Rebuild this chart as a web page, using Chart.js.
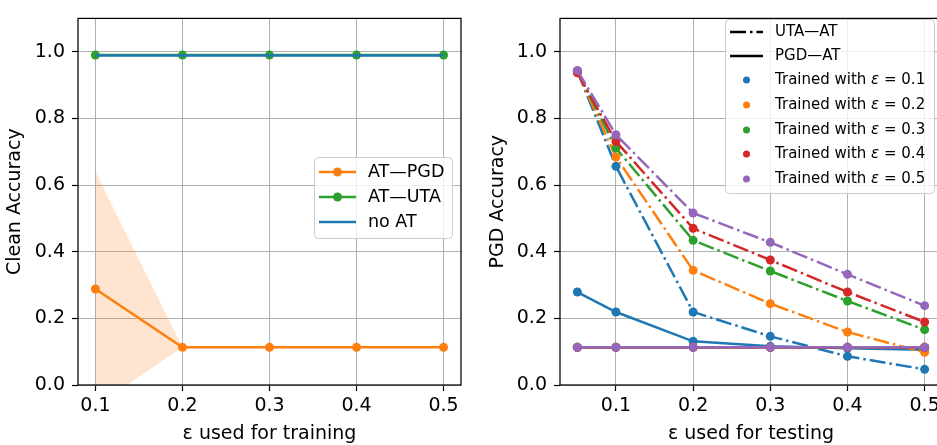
<!DOCTYPE html>
<html>
<head>
<meta charset="utf-8">
<script src="https://cdn.jsdelivr.net/npm/chart.js@4.4.0/dist/chart.umd.min.js"></script>
<style>
  html, body { margin: 0; padding: 0; background: #fff; overflow: hidden; width: 937px; height: 445px; }
  #leftChart { position: absolute; left: 0; top: 0; }
  #rightChart { position: absolute; left: 480px; top: 0; }
</style>
</head>
<body>
<canvas id="leftChart" width="470" height="445"></canvas>
<canvas id="rightChart" width="470" height="445"></canvas>
<script>
// data - left panel (clean accuracy vs training eps)
const trainEps = [0.1, 0.2, 0.3, 0.4, 0.5];
const cleanPgdMean = [0.288, 0.113, 0.113, 0.113, 0.113];
const cleanPgdStd = [0.352, 0, 0, 0, 0];
const cleanUta = [0.990, 0.990, 0.990, 0.990, 0.990];
const cleanNoAt = [0.989, 0.989, 0.989, 0.989, 0.989];

// data - right panel (PGD accuracy vs testing eps)
const testEps = [0.05, 0.1, 0.2, 0.3, 0.4, 0.5];
const utaAt01 = [0.941, 0.656, 0.219, 0.146, 0.086, 0.047];
const utaAt02 = [0.940, 0.684, 0.344, 0.244, 0.159, 0.098];
const utaAt03 = [0.940, 0.711, 0.434, 0.342, 0.252, 0.166];
const utaAt04 = [0.937, 0.731, 0.470, 0.375, 0.279, 0.189];
const utaAt05 = [0.944, 0.751, 0.516, 0.428, 0.332, 0.238];
const pgdAt01 = [0.279, 0.219, 0.131, 0.116, 0.110, 0.106];
const pgdAt02 = [0.113, 0.113, 0.113, 0.113, 0.113, 0.113];
const pgdAt03 = [0.113, 0.113, 0.113, 0.113, 0.113, 0.113];
const pgdAt04 = [0.113, 0.113, 0.113, 0.113, 0.113, 0.113];
const pgdAt05 = [0.113, 0.113, 0.113, 0.113, 0.113, 0.113];

// tick labels
const xTicksLeft = [0.1, 0.2, 0.3, 0.4, 0.5];
const xTicksRight = [0.1, 0.2, 0.3, 0.4, 0.5];
const yTicks = [0.0, 0.2, 0.4, 0.6, 0.8, 1.0];

const FONT = '"DejaVu Sans", "Liberation Sans", sans-serif';
const tab = ['#1f77b4', '#ff7f0e', '#2ca02c', '#d62728', '#9467bd'];
const dashDot = [16, 4, 2.5, 4];
const R = 4.5;

const pts = (xs, ys) => xs.map((x, i) => ({x: x, y: ys[i]}));

// spines round the plot area
const frameBox = {
    id: 'frameBox',
    afterDatasetsDraw(chart) {
        const a = chart.chartArea;
        const ctx = chart.ctx;
        ctx.save();
        ctx.strokeStyle = '#000';
        ctx.lineWidth = 1.25;
        ctx.strokeRect(a.left, a.top, a.right - a.left, a.bottom - a.top);
        ctx.restore();
    }
};

// draws text, with every ε in italic
function mixedText(ctx, text, x, y, size) {
    const parts = text.split(/(ε)/);
    parts.forEach(p => {
        ctx.font = (p === 'ε' ? 'italic ' : '') + size + 'px ' + FONT;
        ctx.fillText(p, x, y);
        x += ctx.measureText(p).width;
    });
}

// matplotlib-like legend box
function makeLegend(cfg) {
    return {
        id: 'mplLegend',
        afterDraw(chart) {
            const ctx = chart.ctx;
            const [bx, by, bw, bh] = cfg.box;
            ctx.save();
            ctx.beginPath();
            ctx.roundRect(bx + 0.5, by + 0.5, bw, bh, 4);
            ctx.fillStyle = 'rgba(255,255,255,0.8)';
            ctx.fill();
            ctx.strokeStyle = '#cccccc';
            ctx.lineWidth = 1;
            ctx.stroke();
            cfg.items.forEach((it, i) => {
                const y = cfg.rows[i];
                if (it.line) {
                    ctx.beginPath();
                    ctx.setLineDash(it.dash || []);
                    ctx.strokeStyle = it.color;
                    ctx.lineWidth = 2.5;
                    ctx.lineCap = 'butt';
                    ctx.moveTo(cfg.handle[0], y);
                    ctx.lineTo(cfg.handle[1], y);
                    ctx.stroke();
                    ctx.setLineDash([]);
                }
                if (it.marker) {
                    ctx.beginPath();
                    ctx.fillStyle = it.color;
                    ctx.arc((cfg.handle[0] + cfg.handle[1]) / 2, y, cfg.markerR, 0, Math.PI * 2);
                    ctx.fill();
                }
                ctx.fillStyle = '#000';
                ctx.textBaseline = 'middle';
                ctx.textAlign = 'left';
                mixedText(ctx, it.label, cfg.textX, y, cfg.fontSize);
            });
            ctx.restore();
        }
    };
}

function axes(xMin, xMax, xTicks, xTitle, yTitle, yWidth, yTitlePad) {
    const grid = {color: '#b0b0b0', lineWidth: 1, tickColor: '#000', tickLength: 6, tickWidth: 1.2};
    return {
        x: {
            type: 'linear', bounds: 'data', min: xMin, max: xMax,
            afterBuildTicks: s => { s.ticks = xTicks.map(v => ({value: v})); },
            afterFit: s => { s.height = 60; },
            grid: grid,
            border: {display: false},
            ticks: {color: '#000', padding: 4, font: {family: FONT, size: 19}, callback: v => v.toFixed(1)},
            title: {display: true, text: xTitle, color: '#000', font: {family: FONT, size: 19}, padding: {top: 0, bottom: 0}}
        },
        y: {
            type: 'linear', bounds: 'data', min: 0, max: 1.1,
            afterBuildTicks: s => { s.ticks = yTicks.map(v => ({value: v})); },
            afterFit: s => { s.width = yWidth; },
            grid: grid,
            border: {display: false},
            ticks: {color: '#000', padding: 7, font: {family: FONT, size: 19}, callback: v => v.toFixed(1)},
            title: {display: true, text: yTitle, color: '#000', font: {family: FONT, size: 19}, padding: {top: yTitlePad, bottom: 0}}
        }
    };
}

const common = {
    responsive: false,
    animation: false,
    events: [],
    plugins: {legend: {display: false}, tooltip: {enabled: false}}
};

// left chart
const upper = cleanPgdMean.map((m, i) => m + cleanPgdStd[i]);
const lower = cleanPgdMean.map((m, i) => m - cleanPgdStd[i]);

new Chart(document.getElementById('leftChart'), {
    type: 'line',
    data: {
        datasets: [
            {data: pts(trainEps, upper), borderColor: 'transparent', pointRadius: 0, fill: false, order: 10},
            {data: pts(trainEps, lower), borderColor: 'transparent', pointRadius: 0, fill: '-1',
             backgroundColor: 'rgba(255,127,14,0.2)', order: 9},
            {label: 'AT—PGD', data: pts(trainEps, cleanPgdMean), borderColor: tab[1], backgroundColor: tab[1],
             borderWidth: 2.5, pointRadius: R, pointBorderWidth: 0, order: 3},
            {label: 'AT—UTA', data: pts(trainEps, cleanUta), borderColor: tab[2], backgroundColor: tab[2],
             borderWidth: 2.5, pointRadius: R, pointBorderWidth: 0, order: 2},
            {label: 'no AT', data: pts(trainEps, cleanNoAt), borderColor: tab[0], backgroundColor: tab[0],
             borderWidth: 2.5, pointRadius: 0, order: 1}
        ]
    },
    options: Object.assign({}, common, {
        layout: {padding: {left: 0, top: 12, right: 9, bottom: 0}},
        scales: axes(0.08, 0.52, xTicksLeft, 'ε used for training', 'Clean Accuracy', 78, 4)
    }),
    plugins: [frameBox, makeLegend({
        box: [314, 157, 138, 81],
        rows: [172, 197, 222],
        handle: [319, 356],
        textX: 368,
        fontSize: 17.5,
        markerR: R,
        items: [
            {label: 'AT—PGD', color: tab[1], line: true, marker: true},
            {label: 'AT—UTA', color: tab[2], line: true, marker: true},
            {label: 'no AT', color: tab[0], line: true}
        ]
    })]
});

// right chart
const utaSeries = [utaAt01, utaAt02, utaAt03, utaAt04, utaAt05];
const pgdSeries = [pgdAt01, pgdAt02, pgdAt03, pgdAt04, pgdAt05];
const rightSets = [];
trainEps.forEach((e, i) => {
    rightSets.push({label: 'UTA—AT ' + e, data: pts(testEps, utaSeries[i]), borderColor: tab[i], backgroundColor: tab[i],
        borderWidth: 2.5, borderDash: dashDot, pointRadius: R, pointBorderWidth: 0, order: -rightSets.length});
    rightSets.push({label: 'PGD—AT ' + e, data: pts(testEps, pgdSeries[i]), borderColor: tab[i], backgroundColor: tab[i],
        borderWidth: 2.5, pointRadius: R, pointBorderWidth: 0, order: -rightSets.length});
});

new Chart(document.getElementById('rightChart'), {
    type: 'line',
    data: {datasets: rightSets},
    options: Object.assign({}, common, {
        layout: {padding: {left: 0, top: 12, right: 8, bottom: 0}},
        scales: axes(0.0275, 0.5225, xTicksRight, 'ε used for testing', 'PGD Accuracy', 80, 6.5)
    }),
    plugins: [frameBox, makeLegend({
        box: [245, 19, 209, 174],
        rows: [32, 56, 80, 105, 130, 154, 179],
        handle: [250, 283],
        textX: 295,
        fontSize: 15,
        markerR: 3.5,
        items: [
            {label: 'UTA—AT', color: '#000', line: true, dash: dashDot},
            {label: 'PGD—AT', color: '#000', line: true}
        ].concat(trainEps.map((e, i) => ({label: 'Trained with ε = ' + e, color: tab[i], marker: true})))
    })]
});
</script>
</body>
</html>
